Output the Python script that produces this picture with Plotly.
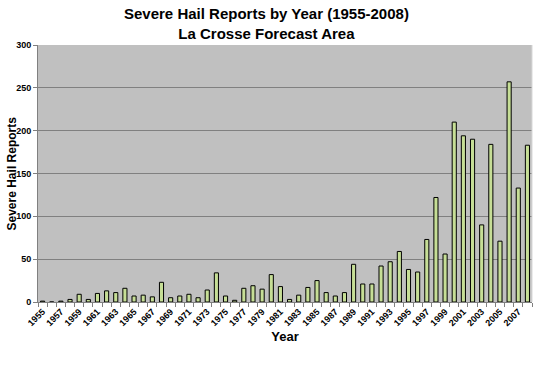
import plotly.graph_objects as go

years = list(range(1955, 2009))
reports = [1, 0, 1, 3, 9, 3, 10, 13, 11, 16,
           7, 8, 6, 23, 5, 7, 9, 5, 14, 34,
           7, 2, 16, 19, 15, 32, 18, 3, 8, 17,
           25, 11, 7, 11, 44, 21, 21, 42, 47, 59,
           38, 35, 73, 122, 56, 210, 194, 190, 90, 184,
           71, 257, 133, 183]
tick_years = years[::2]
y_ticks = [0, 50, 100, 150, 200, 250, 300]

font = "Liberation Sans, Arial, sans-serif"
PW, PH = 494, 257  # plot area size in px

fig = go.Figure(go.Bar(
    x=years, y=reports,
    marker=dict(color="#C6DE96", line=dict(color="#000000", width=1)),
    width=0.45,
))

fig.update_layout(
    width=540, height=368,
    margin=dict(l=38, r=8, t=45, b=66, autoexpand=False),
    paper_bgcolor="white",
    plot_bgcolor="#C0C0C0",
    showlegend=False,
    annotations=[
        dict(
            text="<b>Severe Hail Reports by Year (1955-2008)<br>La Crosse Forecast Area</b>",
            xref="paper", yref="paper", x=(266 - 38) / PW, y=1 + 42 / PH,
            xanchor="center", yanchor="top", showarrow=False,
            font=dict(family=font, size=15, color="#000000"),
        ),
        dict(
            text="<b>Severe Hail Reports</b>",
            xref="paper", yref="paper", x=(11 - 38) / PW, y=0.5,
            xanchor="center", yanchor="middle", textangle=-90, showarrow=False,
            font=dict(family=font, size=12, color="#000000"),
        ),
    ],
    xaxis=dict(
        range=[1954.5, 2008.5],
        automargin=False,
        tickmode="array", tickvals=tick_years,
        ticktext=[f"<b>{y}</b>" for y in tick_years],
        tickangle=-45,
        tickfont=dict(family=font, size=9, color="#000000"),
        ticks="",
        minor=dict(ticks="outside", tick0=1954.5, dtick=1, ticklen=4, tickcolor="#808080"),
        showgrid=False,
        showline=True, linecolor="#808080", linewidth=1,
        title=dict(text="<b>Year</b>", font=dict(family=font, size=13, color="#000000"), standoff=4),
        zeroline=False,
    ),
    yaxis=dict(
        range=[0, 300],
        automargin=False,
        tickmode="array", tickvals=y_ticks,
        ticktext=[f"<b>{v}</b>" for v in y_ticks],
        tickfont=dict(family=font, size=9, color="#000000"),
        ticks="outside", ticklen=4, tickcolor="#808080",
        showgrid=True, gridcolor="#808080", gridwidth=1,
        showline=True, linecolor="#808080", linewidth=1,
        mirror=False,
        zeroline=False,
    ),
    shapes=[dict(type="line", xref="paper", yref="paper", x0=1, x1=1, y0=0, y1=1,
                 line=dict(color="#D8D8D8", width=1))],
)

fig.write_html("out.html", config={"displayModeBar": False},
               post_script="document.body.style.margin='0';")
